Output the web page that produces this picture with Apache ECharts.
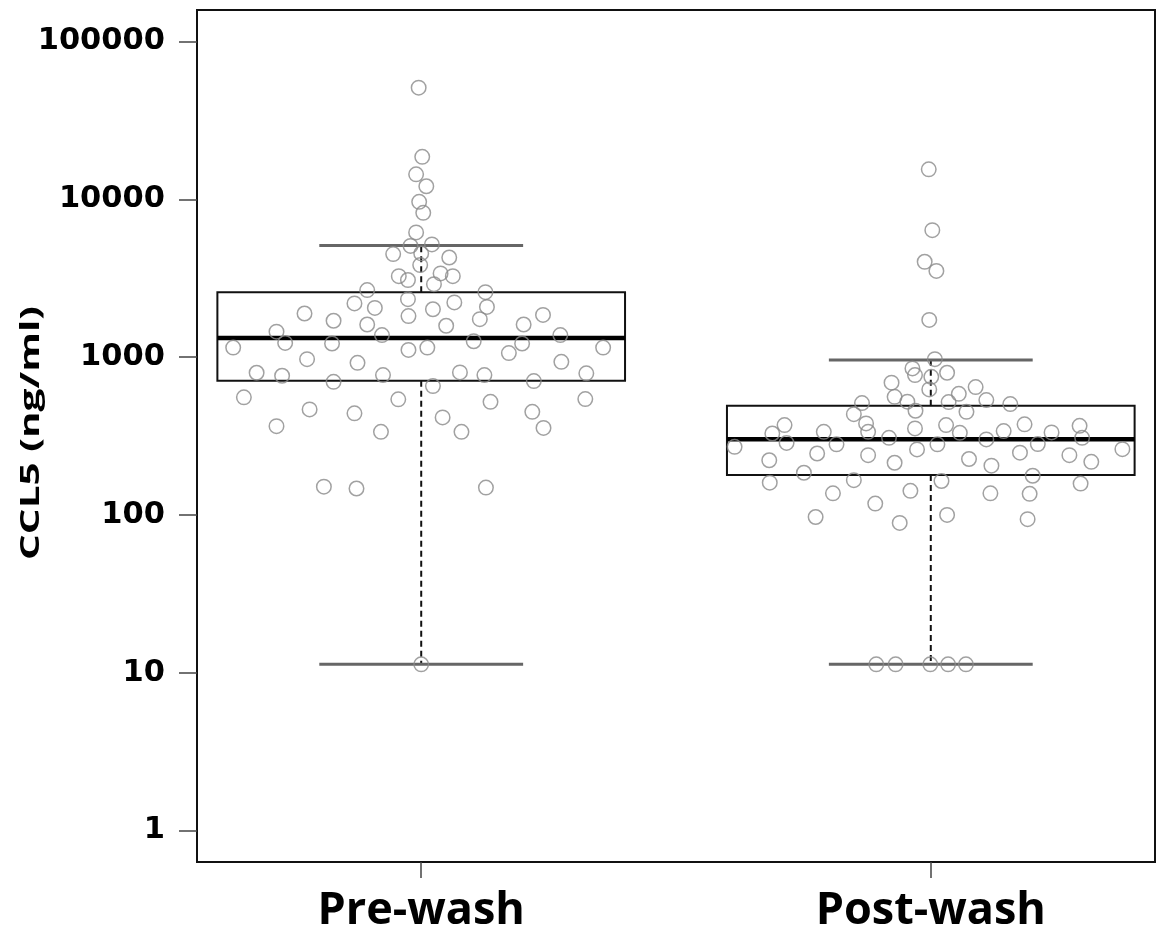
<!DOCTYPE html>
<html><head><meta charset="utf-8">
<script src="https://cdn.jsdelivr.net/npm/echarts@6/dist/echarts.min.js"></script>
<style>html,body{margin:0;padding:0;background:#fff}#c{width:1162px;height:940px}</style>
</head><body><div id="c"></div>
<script>
const categories = ['Pre-wash', 'Post-wash'];
const yTicks = [1, 10, 100, 1000, 10000, 100000];
// [lower whisker, Q1, median, Q3, upper whisker]
const preBox = [11.3, 708, 1320, 2580, 5100];
const postBox = [11.3, 179, 302, 491, 957];

const preValues = [51000, 18600, 14400, 12100, 9640, 8210, 6170, 5070, 5180, 4500,
  4540, 4280, 3830, 3260, 3080, 3390, 3260, 2900, 2660, 2580,
  2190, 2050, 2330, 2010, 2220, 2080, 1890, 1700, 1820, 1740,
  1850, 1610, 1610, 1580, 1450, 1380, 1380, 1150, 1230, 1220,
  1110, 1150, 1260, 1220, 1060, 1150, 971, 920, 934, 796,
  762, 769, 800, 769, 789, 697, 655, 705, 556, 540,
  521, 542, 466, 440, 415, 450, 365, 336, 336, 356,
  151, 147, 149, 11.3];
const preJitter = [-0.005, 0.002, -0.010, 0.010, -0.004, 0.004, -0.010, -0.021, 0.021, -0.055,
  0.000, 0.055, -0.002, -0.044, -0.026, 0.038, 0.062, 0.025, -0.106, 0.126,
  -0.131, -0.091, -0.026, 0.023, 0.065, 0.129, -0.229, -0.172, -0.025, 0.115,
  0.239, 0.201, -0.106, 0.049, -0.284, -0.077, 0.273, -0.369, -0.267, -0.175,
  -0.025, 0.012, 0.103, 0.198, 0.172, 0.357, -0.224, -0.125, 0.275, -0.323,
  -0.273, -0.075, 0.076, 0.124, 0.324, -0.172, 0.023, 0.221, -0.348, -0.045,
  0.136, 0.322, -0.219, -0.131, 0.042, 0.218, -0.284, -0.079, 0.079, 0.240,
  -0.191, -0.127, 0.127, 0.000];

const postValues = [15500, 6380, 4020, 3520, 1720, 971, 848, 769, 750, 796,
  689, 646, 624, 585, 560, 522, 511, 519, 534, 504,
  457, 450, 435, 371, 380, 353, 371, 375, 367, 328,
  336, 336, 331, 340, 333, 308, 301, 308, 270, 286,
  280, 280, 281, 260, 245, 248, 261, 222, 239, 214,
  226, 239, 217, 205, 185, 177, 160, 166, 164, 158,
  137, 142, 137, 136, 118, 97, 89, 100, 94,
  11.3, 11.3, 11.3, 11.3, 11.3];
const postJitter = [-0.004, 0.003, -0.012, 0.011, -0.003, 0.008, -0.036, -0.031, 0.001, 0.032,
  -0.077, 0.088, -0.003, 0.055, -0.071, -0.046, -0.135, 0.035, 0.109, 0.156,
  -0.030, 0.070, -0.151, -0.287, -0.127, -0.031, 0.030, 0.184, 0.292, -0.311,
  -0.210, -0.123, 0.057, 0.143, 0.237, -0.082, 0.109, 0.297, -0.385, -0.283,
  -0.185, 0.013, 0.210, -0.027, -0.223, 0.175, 0.376, -0.317, -0.123, -0.071,
  0.075, 0.272, 0.315, 0.119, -0.249, 0.200, -0.316, -0.151, 0.021, 0.294,
  -0.192, -0.040, 0.117, 0.194, -0.109, -0.226, -0.061, 0.032, 0.190,
  -0.107, -0.069, -0.001, 0.034, 0.069];

const boxData = [[1].concat(preBox), [2].concat(postBox)];
const preData = preValues.map((v, i) => [1 + preJitter[i], v]);
const postData = postValues.map((v, i) => [2 + postJitter[i], v]);

function renderBox(params, api) {
  const c = api.value(0);
  const vMin = api.value(1), q1 = api.value(2), med = api.value(3), q3 = api.value(4), vMax = api.value(5);
  const P = (dx, v) => api.coord([c + dx, v]);
  const line = (a, b, style) => ({type: 'line', shape: {x1: a[0], y1: a[1], x2: b[0], y2: b[1]}, style: style});
  const dash = {stroke: '#111', lineWidth: 2, lineDash: [6, 4]};
  const cap = {stroke: '#666', lineWidth: 3};
  const tl = P(-0.4, q3), br = P(0.4, q1);
  return {type: 'group', children: [
    line(P(0, q3), P(0, vMax), dash),
    line(P(0, q1), P(0, vMin), dash),
    line(P(-0.2, vMax), P(0.2, vMax), cap),
    line(P(-0.2, vMin), P(0.2, vMin), cap),
    {type: 'rect', shape: {x: tl[0], y: tl[1], width: br[0] - tl[0], height: br[1] - tl[1]},
     style: {fill: 'none', stroke: '#111', lineWidth: 2}},
    line(P(-0.4, med), P(0.4, med), {stroke: '#000', lineWidth: 4.5})
  ]};
}

const chart = echarts.init(document.getElementById('c'), null, {renderer: 'canvas'});
const pointStyle = {color: 'rgba(255,255,255,0)', borderColor: '#8a8a8a', borderWidth: 1.5};
chart.setOption({
  animation: false,
  backgroundColor: '#fff',
  grid: {left: 197, right: 7, top: 10, bottom: 78, show: true, borderColor: '#111', borderWidth: 2, backgroundColor: 'transparent'},
  xAxis: {
    type: 'value', min: 0.56, max: 2.44,
    axisLine: {show: false}, splitLine: {show: false},
    axisTick: {show: true, customValues: [1, 2], length: 16, lineStyle: {color: '#444', width: 1.5}},
    axisLabel: {customValues: [1, 2], formatter: v => categories[Math.round(v) - 1],
      fontFamily: 'Open Sans', fontWeight: 'bold', fontSize: 45, color: '#000', margin: 27}
  },
  yAxis: {
    type: 'log', logBase: 10, min: 0.631, max: 158489,
    axisLine: {show: false}, splitLine: {show: false},
    axisTick: {show: true, customValues: yTicks, length: 18, lineStyle: {color: '#444', width: 1.5}},
    axisLabel: {customValues: yTicks, formatter: v => String(Math.round(v)),
      fontFamily: 'DejaVu Sans', fontWeight: 'bold', fontSize: 30.5, color: '#000', margin: 32}
  },
  graphic: [{
    type: 'text', x: 31, y: 433, rotation: Math.PI / 2, scaleX: 1.5, scaleY: 1,
    style: {text: 'CCL5 (ng/ml)', font: 'bold 27px "Open Sans"', fill: '#000',
      textAlign: 'center', textVerticalAlign: 'middle', align: 'center', verticalAlign: 'middle'}
  }],
  series: [
    {type: 'custom', name: 'box', data: boxData, renderItem: renderBox,
     encode: {x: 0, y: [1, 2, 3, 4, 5]}, z: 2, silent: true},
    {type: 'scatter', name: categories[0], data: preData, symbol: 'circle', symbolSize: 14.5,
     itemStyle: pointStyle, z: 3, silent: true},
    {type: 'scatter', name: categories[1], data: postData, symbol: 'circle', symbolSize: 14.5,
     itemStyle: pointStyle, z: 3, silent: true}
  ]
});
</script>
</body></html>
